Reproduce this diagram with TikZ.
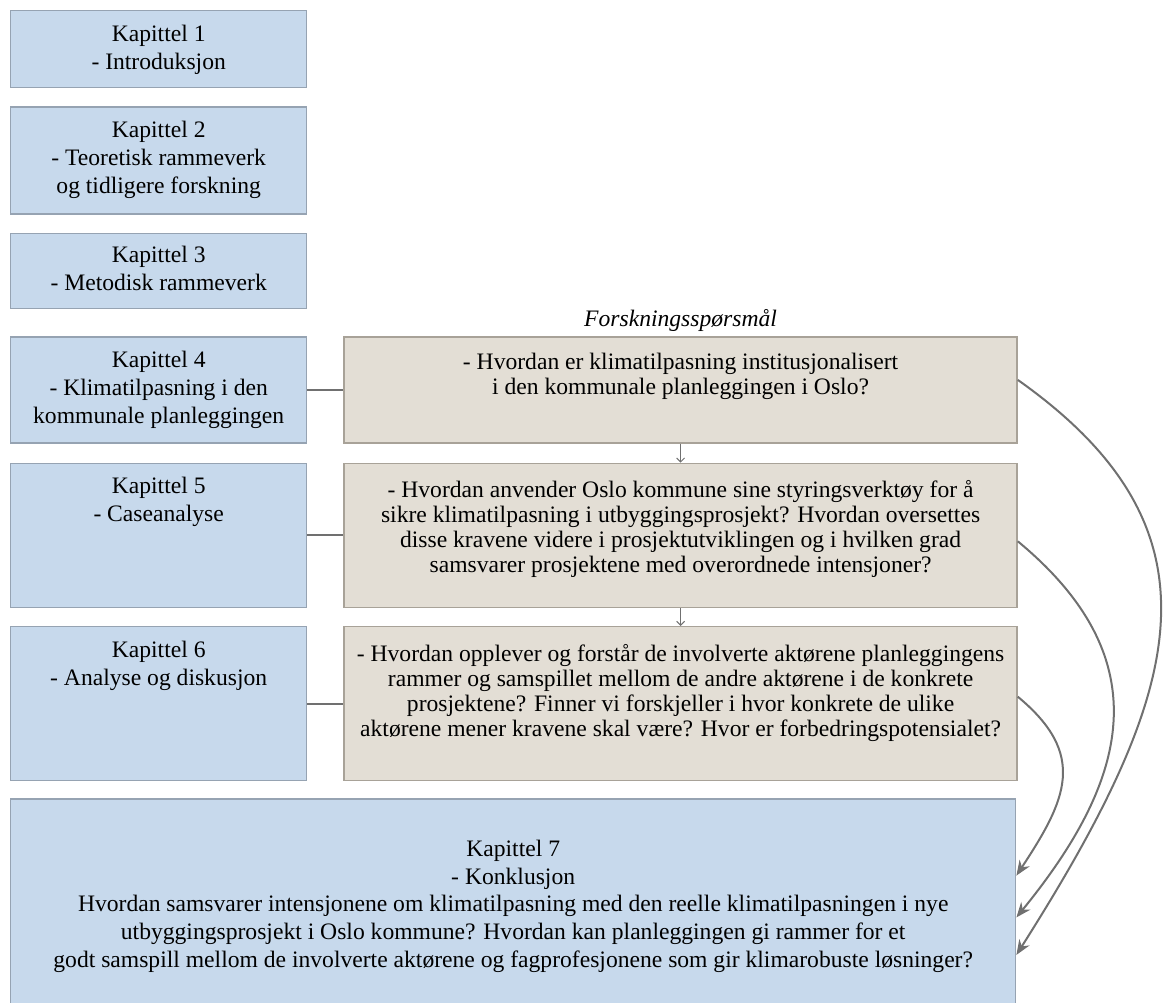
\documentclass[tikz,border=0pt]{standalone}
\usepackage{fontspec}
\setmainfont{Liberation Serif}
\usetikzlibrary{arrows.meta, positioning, calc}

\definecolor{chapfill}{RGB}{199,217,236}
\definecolor{chapline}{RGB}{150,163,178}
\definecolor{qfill}{RGB}{227,222,213}
\definecolor{qline}{RGB}{168,162,152}
\definecolor{linkgray}{RGB}{112,112,112}

% text placed at the top of a box of fixed size
\newcommand{\boxtext}[4]{\parbox[c][#2][t]{#1}{\centering\vspace*{#3}#4}}

\begin{document}
\begin{tikzpicture}[
    x=0.5pt, y=-0.5pt,
    chap/.style={rectangle, draw=chapline, line width=0.7pt, fill=chapfill, inner sep=0pt, font=\fontsize{11.8pt}{14pt}\selectfont},
    question/.style={rectangle, draw=qline, line width=0.7pt, fill=qfill, inner sep=0pt, font=\fontsize{11.8pt}{12.5pt}\selectfont},
    link/.style={draw=linkgray, line width=1pt},
    step arrow/.style={draw=linkgray, line width=0.5pt, -{Straight Barb[length=2pt,width=4pt]}},
    back arrow/.style={draw=linkgray, line width=1pt, -{Stealth[length=7.5pt,width=6pt]}}
]
    \useasboundingbox (0,0) rectangle (1164,1003);

    % Chapters
    \node[chap, anchor=north west] (k1) at (10,10) {\boxtext{148pt}{38.5pt}{7pt}{Kapittel 1\\- Introduksjon}};
    \node[chap, below=9pt of k1] (k2) {\boxtext{148pt}{53.5pt}{7pt}{Kapittel 2\\- Teoretisk rammeverk\\og tidligere forskning}};
    \node[chap, below=9pt of k2] (k3) {\boxtext{148pt}{37.5pt}{6.5pt}{Kapittel 3\\- Metodisk rammeverk}};
    \node[chap, below=13.5pt of k3] (k4) {\boxtext{148pt}{53pt}{7pt}{Kapittel 4\\- Klimatilpasning i den\\kommunale planleggingen}};
    \node[chap, below=9.5pt of k4] (k5) {\boxtext{148pt}{72pt}{7pt}{Kapittel 5\\- Caseanalyse}};
    \node[chap, below=9pt of k5] (k6) {\boxtext{148pt}{77pt}{7pt}{Kapittel 6\\- Analyse og diskusjon}};
    \node[chap, below=8.5pt of k6.south west, anchor=north west, font=\fontsize{11.8pt}{13.8pt}\selectfont] (k7) {\boxtext{502.5pt}{106.5pt}{20.6pt}{Kapittel 7\\- Konklusjon\\Hvordan samsvarer intensjonene om klimatilpasning med den reelle klimatilpasningen i nye\\utbyggingsprosjekt i Oslo kommune? Hvordan kan planleggingen gi rammer for et\\godt samspill mellom de involverte aktørene og fagprofesjonene som gir klimarobuste løsninger?}};

    % Research questions
    \node[question, right=18pt of k4] (q1) {\boxtext{336.5pt}{53pt}{8pt}{- Hvordan er klimatilpasning institusjonalisert\\i den kommunale planleggingen i Oslo?}};
    \node[question, right=18pt of k5] (q2) {\boxtext{336.5pt}{72pt}{8.6pt}{- Hvordan anvender Oslo kommune sine styringsverktøy for å\\sikre klimatilpasning i utbyggingsprosjekt? Hvordan oversettes\\disse kravene videre i prosjektutviklingen og i hvilken grad\\samsvarer prosjektene med overordnede intensjoner?}};
    \node[question, right=18pt of k6] (q3) {\boxtext{336.5pt}{77pt}{8.6pt}{- Hvordan opplever og forstår de involverte aktørene planleggingens\\rammer og samspillet mellom de andre aktørene i de konkrete\\prosjektene? Finner vi forskjeller i hvor konkrete de ulike\\aktørene mener kravene skal være? Hvor er forbedringspotensialet?}};
    \node[above=-1pt of q1, font=\fontsize{11.8pt}{13pt}\selectfont\itshape] (rq) {Forskningsspørsmål};

    % Links
    \draw[link] (k4) -- (q1);
    \draw[link] (k5) -- (q2);
    \draw[link] (k6) -- (q3);
    \draw[step arrow] (q1) -- (q2);
    \draw[step arrow] (q2) -- (q3);

    % Back to the conclusion
    \coordinate (c1) at ($(k7.north east)!0.36!(k7.south east)$);
    \coordinate (c2) at ($(k7.north east)!0.555!(k7.south east)$);
    \coordinate (c3) at ($(k7.north east)!0.73!(k7.south east)$);
    \draw[back arrow] ([yshift=3.5pt]q3.east) .. controls +(70,58) and +(50,-76) .. (c1);
    \draw[back arrow] ([yshift=-3pt]q2.east) .. controls +(145,120) and +(110,-135) .. (c2);
    \draw[back arrow] ([yshift=5pt]q1.east) .. controls +(215,152) and +(166,-262) .. (c3);
\end{tikzpicture}
\end{document}
